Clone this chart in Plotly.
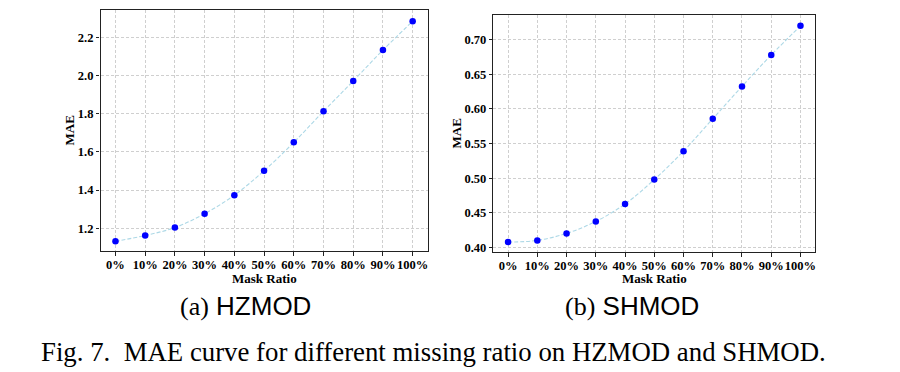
import plotly.graph_objects as go

mask_ratio_labels = ["0%", "10%", "20%", "30%", "40%", "50%", "60%", "70%", "80%", "90%", "100%"]
hzmod_mae = [1.131, 1.162, 1.203, 1.276, 1.373, 1.501, 1.650, 1.813, 1.972, 2.134, 2.285]
shmod_mae = [0.4076, 0.4100, 0.4201, 0.4373, 0.4626, 0.4979, 0.5390, 0.5858, 0.6326, 0.6780, 0.7201]
hz_yticks = [1.2, 1.4, 1.6, 1.8, 2.0, 2.2]
sh_yticks = [0.40, 0.45, 0.50, 0.55, 0.60, 0.65, 0.70]

# page has an 8px body margin, so the figure is drawn 8px in from the top-left
OFF = 8
W, H = 900 - OFF, 372 - OFF
idx = list(range(len(mask_ratio_labels)))


def px_x(v):
    return (v - OFF) / W


def px_y(v):
    return 1 - (v - OFF) / H


fig = go.Figure()

TICKFONT = dict(family="Liberation Serif", size=12.5, color="black")
GRID = dict(showgrid=True, gridcolor="#cfcfcf", griddash="3px,2px", gridwidth=0.8)
FRAME = dict(showline=True, linecolor="#222222", linewidth=1.2, mirror=True,
             ticks="outside", ticklen=3.5, tickwidth=1, tickcolor="#222222",
             zeroline=False, tickangle=0)

for i, vals in enumerate([hzmod_mae, shmod_mae]):
    xa = "x" if i == 0 else "x2"
    ya = "y" if i == 0 else "y2"
    fig.add_trace(go.Scatter(
        x=idx, y=vals, mode="lines+markers", xaxis=xa, yaxis=ya,
        line=dict(color="#add8e6", width=1.1, dash="4px,2px", shape="spline", smoothing=1.0),
        marker=dict(color="#0000ff", size=6.5, line=dict(width=0)),
        showlegend=False, cliponaxis=False,
    ))

xt = ["<b>%s</b>" % s for s in mask_ratio_labels]

fig.update_layout(
    width=W, height=H, margin=dict(l=0, r=0, t=0, b=0),
    paper_bgcolor="white", plot_bgcolor="white",
    xaxis=dict(domain=[px_x(100.7), px_x(428)], range=[-0.5, 10.5], tickvals=idx,
               ticktext=xt, tickfont=TICKFONT, anchor="y", ticklabelstandoff=-2,
               **GRID, **FRAME),
    yaxis=dict(domain=[px_y(253.3), px_y(10)], range=[1.079, 2.344], tickvals=hz_yticks,
               ticktext=["<b>{:.1f}</b>".format(v) for v in hz_yticks], tickfont=TICKFONT,
               anchor="x", **GRID, **FRAME),
    xaxis2=dict(domain=[px_x(494), px_x(816)], range=[-0.5, 10.5], tickvals=idx,
                ticktext=xt, tickfont=TICKFONT, anchor="y2", ticklabelstandoff=-2,
                **GRID, **FRAME),
    yaxis2=dict(domain=[px_y(254), px_y(14.7)], range=[0.3933, 0.7363], tickvals=sh_yticks,
                ticktext=["<b>{:.2f}</b>".format(v) for v in sh_yticks], tickfont=TICKFONT,
                anchor="x2", **GRID, **FRAME),
)

ann = []
LBL = dict(family="Liberation Serif", size=13, color="black")
ann.append(dict(x=px_x(70), y=px_y(131.5), text="<b>MAE</b>", textangle=-90, font=LBL))
ann.append(dict(x=px_x(456.7), y=px_y(134.3), text="<b>MAE</b>", textangle=-90, font=LBL))
ann.append(dict(x=px_x(264.4), y=px_y(281), text="<b>Mask Ratio</b>", font=LBL))
ann.append(dict(x=px_x(655), y=px_y(281), text="<b>Mask Ratio</b>", font=LBL))
ann.append(dict(x=px_x(246), y=px_y(308), font=dict(family="Liberation Sans", size=26, color="black"),
                text="<span style='font-family:Liberation Serif'>(a)</span> HZMOD"))
ann.append(dict(x=px_x(632.8), y=px_y(308), font=dict(family="Liberation Sans", size=26, color="black"),
                text="<span style='font-family:Liberation Serif'>(b)</span> SHMOD"))
ann.append(dict(x=px_x(434), y=px_y(355), font=dict(family="Liberation Serif", size=26.8, color="black"),
                text="Fig. 7.\u00a0 MAE curve for different missing ratio on HZMOD and SHMOD."))

for a in ann:
    a.update(xref="paper", yref="paper", showarrow=False, xanchor="center", yanchor="middle")
fig.update_layout(annotations=ann)

fig.write_html("out.html")
